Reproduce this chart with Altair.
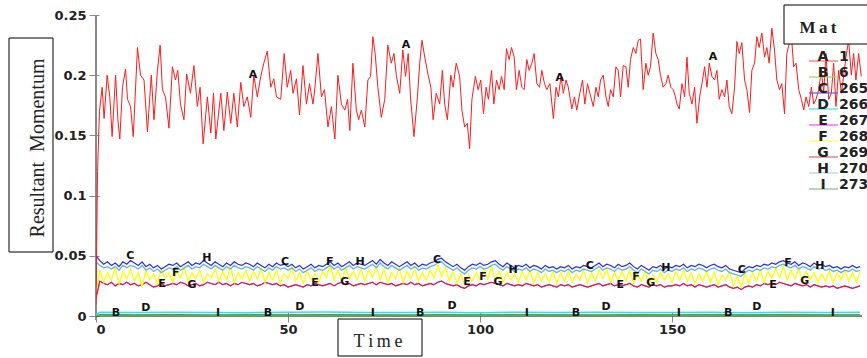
import altair as alt
import pandas as pd

# ---------------- data ----------------
RED_T = [0, 0.4, 0.9, 1.6, 2.1, 2.9, 3.6, 4.2, 5.1, 5.7, 6.2, 6.9, 7.7, 8.2, 9.0, 9.7, 10.8, 11.6, 12.5, 13.4,
         14.4, 15.1, 16.0, 16.7, 17.3, 18.1, 19.0, 19.9, 20.7, 21.3, 22.0, 22.9, 23.6, 24.6, 25.5, 26.4, 27.1, 27.9,
         29.0, 29.9, 30.6, 31.2, 32.5, 33.3, 34.2, 35.1, 35.9, 36.8, 37.7, 38.5, 39.4, 40.3, 41.1, 42.0, 42.9, 43.7,
         44.6, 45.5, 46.3, 47.0, 48.1, 49.0, 49.8,
         50.7, 51.3, 52.2, 53.0, 53.9, 54.8, 55.6, 56.5, 56.9, 57.8, 58.7, 59.5, 60.4, 61.3, 62.2, 63.0, 63.9, 64.8,
         65.5, 66.1, 66.9, 67.8, 68.4, 69.1, 70.0, 70.8, 71.5, 72.1, 72.7, 73.4, 74.3, 75.2, 76.0, 76.9, 77.6, 78.2,
         79.1, 79.9, 80.6, 81.3, 81.9, 82.8, 83.7, 84.3, 84.9, 85.6, 86.5, 87.2, 87.8, 88.6, 89.5, 90.2, 90.8, 91.5,
         92.4, 93.0, 93.8, 94.7, 95.3, 96.0, 96.7, 97.3, 97.9, 98.8, 99.5, 100.2,
         100.9, 101.6, 102.2, 103.0, 103.6, 104.3, 105.0, 105.6, 106.3, 106.9, 107.6, 108.2, 108.9, 109.5, 110.2,
         110.9, 111.5, 112.2, 112.8, 113.5, 114.1, 114.8, 115.5, 116.1, 116.8, 117.4, 118.2, 119.1, 119.8, 120.4,
         121.1, 121.7, 122.4, 123.0, 123.9, 124.6, 125.2, 126.0, 126.7, 127.3, 128.0, 128.6, 129.5, 130.2, 130.8,
         131.4, 132.1, 132.8, 133.4, 134.0, 134.7, 135.4, 136.0, 136.6, 137.3, 138.0, 138.6, 139.2, 139.9, 140.6,
         141.2, 141.8, 142.5, 143.2, 143.8, 144.4, 145.1, 145.8, 146.4, 147.0, 147.7, 148.4, 149.0, 149.7,
         150.3, 150.9, 151.3, 151.9, 152.6, 153.3, 153.9, 154.5, 155.2, 155.9, 156.5, 157.2, 157.8, 158.5, 159.1,
         159.7, 160.4, 161.1, 161.7, 162.3, 163.0, 163.7, 164.3, 164.9, 165.6, 166.3, 166.9, 167.5, 168.2, 168.9,
         169.5, 170.2, 170.8, 171.5, 172.1, 172.7, 173.4, 174.1, 174.7, 175.3, 176.0, 176.7, 177.3, 178.0, 178.6,
         179.3, 179.9, 180.6, 181.1, 181.7, 182.3, 183.0, 183.7, 184.3, 184.9, 185.6, 186.3, 186.9, 187.5, 188.2,
         188.9, 189.5, 190.1, 190.8, 191.5, 192.1, 192.7, 193.4, 194.1, 194.7, 195.3, 196.0, 196.7, 197.3, 197.9,
         198.6, 199.3]
RED_V = [0.01, 0.12, 0.17, 0.19, 0.164, 0.2, 0.182, 0.149, 0.2, 0.163, 0.147, 0.19, 0.205, 0.18, 0.174, 0.149,
         0.223, 0.2, 0.196, 0.153, 0.2, 0.163, 0.204, 0.225, 0.188, 0.182, 0.156, 0.207, 0.196, 0.204, 0.176, 0.163,
         0.201, 0.185, 0.208, 0.174, 0.19, 0.143, 0.182, 0.152, 0.185, 0.147, 0.185, 0.154, 0.186, 0.16, 0.185,
         0.157, 0.194, 0.174, 0.182, 0.165, 0.2, 0.182, 0.199, 0.21, 0.22, 0.19, 0.197, 0.182, 0.18, 0.218, 0.19,
         0.204, 0.185, 0.197, 0.167, 0.208, 0.176, 0.193, 0.176, 0.186, 0.218, 0.182, 0.188, 0.157, 0.174, 0.147,
         0.2, 0.176, 0.171, 0.18, 0.154, 0.21, 0.171, 0.163, 0.171, 0.157, 0.196, 0.199, 0.232, 0.218, 0.19, 0.165,
         0.18, 0.225, 0.21, 0.218, 0.2, 0.185, 0.221, 0.199, 0.218, 0.182, 0.149, 0.182, 0.21, 0.229, 0.215, 0.2,
         0.19, 0.163, 0.185, 0.176, 0.204, 0.176, 0.163, 0.2, 0.19, 0.21, 0.199, 0.171, 0.157, 0.16, 0.139, 0.18,
         0.199, 0.188, 0.196,
         0.168, 0.19, 0.18, 0.204, 0.176, 0.196, 0.188, 0.199, 0.188, 0.222, 0.213, 0.223, 0.215, 0.188, 0.204,
         0.19, 0.188, 0.213, 0.204, 0.21, 0.218, 0.193, 0.19, 0.204, 0.193, 0.188, 0.193, 0.164, 0.19, 0.182,
         0.199, 0.185, 0.196, 0.19, 0.172, 0.182, 0.171, 0.185, 0.196, 0.176, 0.193, 0.185, 0.174, 0.19, 0.182,
         0.196, 0.2, 0.182, 0.174, 0.188, 0.182, 0.207, 0.204, 0.182, 0.208, 0.207, 0.19, 0.213, 0.223, 0.218,
         0.229, 0.23, 0.188, 0.21, 0.2, 0.207, 0.235, 0.218, 0.213, 0.2, 0.19, 0.193, 0.2, 0.19,
         0.188, 0.182, 0.176, 0.172, 0.193, 0.182, 0.215, 0.185, 0.176, 0.19, 0.16, 0.182, 0.193, 0.207, 0.19,
         0.21, 0.199, 0.196, 0.204, 0.18, 0.188, 0.182, 0.196, 0.174, 0.168, 0.19, 0.228, 0.218, 0.227, 0.196,
         0.188, 0.169, 0.204, 0.21, 0.232, 0.223, 0.235, 0.215, 0.223, 0.21, 0.239, 0.221, 0.196, 0.188, 0.193,
         0.168, 0.218, 0.227, 0.232, 0.207, 0.21, 0.188, 0.18, 0.171, 0.182, 0.174, 0.19, 0.176, 0.18, 0.188,
         0.204, 0.185, 0.218, 0.18, 0.185, 0.21, 0.174, 0.204, 0.185, 0.199, 0.215, 0.229, 0.2, 0.218, 0.196,
         0.218, 0.199]

STEP_T = list(range(200))  # sample times of the low series, one per time unit

# values in thousandths
C_VALS = [50, 46, 43, 45, 42, 44, 41, 45, 43, 46,
          44, 42, 45, 41, 43, 40, 42, 39, 41, 43,
          42, 44, 41, 43, 45, 42, 44, 43, 46, 44,
          42, 45, 43, 41, 44, 42, 45, 43, 42, 44,
          43, 41, 44, 42, 40, 43, 41, 44, 42, 43,
          41, 43, 40, 42, 39, 41, 43, 40, 42, 41,
          43, 45, 42, 44, 41, 43, 45, 42, 44, 43,
          42, 44, 46, 43, 47, 44, 42, 45, 43, 41,
          43, 45, 42, 44, 41, 43, 42, 44, 45, 47,
          48, 45, 43, 41, 43, 40, 38, 41, 43, 42,
          44, 42, 43, 45, 46, 43, 41, 44, 42, 40,
          42, 41, 43, 40, 42, 41, 39, 42, 40, 41,
          39, 41, 40, 42, 39, 41, 40, 42, 41, 40,
          42, 44, 41, 43, 42, 40, 43, 41, 42, 44,
          41, 39, 42, 40, 38, 41, 40, 42, 39, 41,
          40, 42, 41, 43, 40, 42, 41, 43, 42, 40,
          42, 43, 41, 40, 42, 39, 38, 37, 36, 39,
          41, 40, 42, 41, 43, 42, 44, 43, 45, 46,
          44, 43, 45, 42, 44, 43, 41, 44, 42, 43,
          41, 42, 40, 41, 39, 41, 40, 42, 40, 41]
H_VALS = [45, 42, 40, 41, 39, 41, 38, 42, 40, 42,
          41, 39, 42, 38, 40, 37, 39, 36, 38, 40,
          39, 41, 38, 40, 42, 39, 41, 40, 43, 41,
          39, 42, 40, 38, 41, 39, 42, 40, 39, 41,
          40, 38, 41, 39, 37, 40, 38, 41, 39, 40,
          38, 40, 37, 39, 36, 38, 40, 37, 39, 38,
          40, 42, 39, 41, 38, 40, 42, 39, 41, 40,
          39, 41, 43, 40, 44, 41, 39, 42, 40, 38,
          40, 42, 39, 41, 38, 40, 39, 41, 42, 44,
          45, 42, 40, 38, 40, 37, 35, 38, 40, 39,
          41, 39, 40, 42, 43, 40, 38, 41, 39, 37,
          39, 38, 40, 37, 39, 38, 36, 39, 37, 38,
          36, 38, 37, 39, 36, 38, 37, 39, 38, 37,
          39, 41, 38, 40, 39, 37, 40, 38, 39, 41,
          38, 36, 39, 37, 35, 38, 37, 39, 36, 38,
          37, 39, 38, 40, 37, 39, 38, 40, 39, 37,
          39, 40, 38, 37, 39, 36, 35, 34, 33, 36,
          38, 37, 39, 38, 40, 39, 41, 40, 42, 43,
          41, 40, 42, 39, 41, 40, 38, 41, 39, 40,
          38, 39, 37, 38, 36, 38, 37, 39, 37, 38]
F_VALS = [20, 38, 28, 36, 30, 40, 27, 37, 31, 39,
          29, 36, 24, 38, 30, 35, 27, 39, 31, 36,
          28, 37, 32, 40, 29, 36, 31, 38, 28, 35,
          32, 39, 29, 37, 30, 41, 28, 36, 31, 38,
          29, 37, 31, 39, 28, 36, 30, 38, 27, 35,
          31, 40, 29, 36, 27, 38, 30, 35, 28, 37,
          32, 42, 30, 38, 29, 40, 31, 37, 30, 39,
          29, 38, 32, 41, 30, 39, 28, 36, 31, 40,
          28, 37, 31, 39, 29, 36, 30, 38, 32, 42,
          33, 40, 29, 37, 27, 35, 26, 34, 29, 36,
          30, 39, 31, 41, 29, 37, 28, 36, 30, 35,
          28, 37, 30, 38, 27, 36, 29, 35, 28, 37,
          27, 36, 29, 37, 28, 35, 30, 38, 27, 36,
          29, 38, 31, 39, 28, 36, 30, 37, 29, 38,
          27, 35, 29, 37, 26, 34, 28, 36, 30, 35,
          28, 37, 30, 38, 29, 36, 27, 35, 29, 37,
          28, 36, 26, 34, 30, 37, 25, 33, 24, 35,
          27, 36, 29, 38, 28, 37, 31, 40, 32, 41,
          30, 38, 31, 39, 29, 37, 30, 36, 28, 35,
          29, 37, 28, 36, 30, 38, 29, 36, 28, 37]
G_VALS = [15, 29, 27, 26, 28, 25, 27, 26, 28, 26,
          27, 25, 26, 28, 26, 24, 25, 27, 25, 26,
          27, 26, 28, 27, 25, 26, 27, 25, 26, 28,
          27, 26, 28, 26, 27, 25, 27, 26, 28, 27,
          26, 27, 25, 26, 28, 27, 26, 27, 25, 26,
          24, 25, 26, 25, 24, 26, 25, 27, 26, 25,
          26, 27, 25, 27, 28, 26, 27, 25, 26, 27,
          26, 27, 28, 26, 28, 27, 26, 27, 25, 26,
          27, 26, 28, 26, 27, 25, 26, 27, 26, 28,
          29, 27, 26, 25, 26, 24, 23, 25, 26, 25,
          27, 26, 27, 28, 27, 26, 25, 27, 26, 25,
          26, 25, 27, 26, 25, 26, 24, 25, 26, 25,
          24, 26, 25, 26, 24, 25, 26, 25, 24, 25,
          26, 27, 25, 26, 27, 25, 26, 25, 26, 27,
          25, 24, 26, 25, 24, 26, 25, 26, 24, 25,
          25, 26, 25, 27, 25, 26, 24, 26, 25, 24,
          25, 26, 24, 25, 26, 24, 23, 24, 22, 24,
          25, 24, 26, 25, 27, 26, 27, 26, 28, 27,
          26, 25, 27, 26, 25, 26, 24, 26, 25, 24,
          25, 24, 25, 23, 24, 25, 24, 23, 24, 25]
E_VALS = G_VALS  # magenta series lies under the crimson one

SLOW_T = [0, 1, 10, 20, 30, 40, 50, 60, 70, 80, 90, 100, 110, 120, 130, 140, 150, 160, 170, 180, 190, 199]
D_VALS = [1.0, 3.1, 2.9, 3.2, 3.0, 2.8, 3.1, 3.3, 2.9, 3.0, 3.2, 2.8, 3.1, 3.0, 3.2, 2.9, 3.0, 3.2, 2.8, 3.1, 3.0, 3.1]
I_VALS = [0.5, 1.2, 1.1, 1.2, 1.0, 1.2, 1.1, 1.2, 1.1, 1.0, 1.2, 1.1, 1.2, 1.1, 1.0, 1.2, 1.1, 1.2, 1.1, 1.2, 1.1, 1.1]
B_VALS = [0.3, 0.5, 0.5, 0.6, 0.5, 0.4, 0.5, 0.5, 0.6, 0.5, 0.5, 0.4, 0.5, 0.6, 0.5, 0.5, 0.4, 0.5, 0.6, 0.5, 0.5, 0.5]

# in-plot curve labels: letter, times, values
LABELS = {
    "A": ([40.9, 80.7, 120.8, 160.7], [0.200, 0.225, 0.198, 0.215]),
    "B": ([5.2, 44.8, 84.4, 125.0, 164.6], [0.0025, 0.0025, 0.0025, 0.0025, 0.0025]),
    "C": ([8.9, 49.2, 88.8, 128.6, 168.2], [0.050, 0.045, 0.0465, 0.0415, 0.038]),
    "D": ([13.0, 53.1, 92.7, 132.8, 172.1], [0.0066, 0.0075, 0.0083, 0.0075, 0.0075]),
    "E": ([17.2, 57.0, 96.6, 136.5, 176.3], [0.0266, 0.0274, 0.028, 0.0257, 0.0257]),
    "F": ([20.8, 60.9, 100.8, 140.6, 180.2], [0.0357, 0.045, 0.032, 0.032, 0.044]),
    "G": ([25.0, 64.8, 104.7, 144.5, 184.6], [0.0257, 0.028, 0.028, 0.0274, 0.029]),
    "H": ([28.9, 68.75, 108.6, 148.4, 188.5], [0.048, 0.045, 0.038, 0.040, 0.0415]),
    "I": ([31.8, 72.1, 112.2, 151.8, 191.9], [0.0025, 0.0025, 0.0025, 0.0025, 0.0025]),
}

LEGEND_KEYS = ["A", "B", "C", "D", "E", "F", "G", "H", "I"]
LEGEND_NUMS = ["1", "6", "265", "266", "267", "268", "269", "270", "273"]
LEGEND_COLORS = ["#ff6666", "#88e060", "#5a5ae6", "#40e0e8", "#ff44ff", "#ffff44", "#d06878", "#a8d4f0", "#88b898"]

LINE_COLORS = {"A": "#ff1a1a", "B": "#55c433", "C": "#2a2af0", "D": "#2ee0ea", "E": "#ff00ff",
               "F": "#ffff00", "G": "#d81e46", "H": "#5cb4e8", "I": "#3f8f5f"}

Y_TICKS = [0, 0.05, 0.1, 0.15, 0.2, 0.25]
X_TICKS = [0, 50, 100, 150]

# ---------------- chart ----------------
W, H = 768, 301
LAB_FONT = "DejaVu Sans"
SERIF = "Liberation Serif"

xenc = alt.X("t:Q", scale=alt.Scale(domain=[0, 200], nice=False, zero=False),
             axis=alt.Axis(values=X_TICKS, domain=False, grid=False, offset=-4, tickSize=10,
                           tickColor="#8a8a8a", tickWidth=1, labelFont=LAB_FONT, labelFontWeight="bold",
                           labelFontSize=13, labelColor="#222", labelPadding=1, title=None, format="d"))
yenc = alt.Y("v:Q", scale=alt.Scale(domain=[0, 0.25], nice=False),
             axis=alt.Axis(values=Y_TICKS, domain=False, grid=False, offset=-3, tickSize=10,
                           tickColor="#8a8a8a", tickWidth=1, labelFont=LAB_FONT, labelFontWeight="bold",
                           labelFontSize=13, labelColor="#222", labelPadding=3, title=None, format="~g"))


def series_layer(times, vals, key, scale_div, width=1.0):
    df = pd.DataFrame({"t": times, "v": [v / scale_div for v in vals]})
    return alt.Chart(df).mark_line(color=LINE_COLORS[key], strokeWidth=width, clip=True).encode(x=xenc, y=yenc)


one = pd.DataFrame({"k": [0]})

axis_left = alt.Chart(one).mark_rule(color="#8a8a8a", strokeWidth=2).encode(
    x=alt.value(0), y=alt.value(0), y2=alt.value(H + 4))
axis_bottom = alt.Chart(one).mark_rule(color="#3d6b45", strokeWidth=1.5).encode(
    x=alt.value(0), x2=alt.value(766), y=alt.value(H))

layers = [
    axis_left,
    axis_bottom,
    series_layer(STEP_T, E_VALS, "E", 1000),
    series_layer(STEP_T, G_VALS, "G", 1000, 1.2),
    series_layer(STEP_T, F_VALS, "F", 1000, 1.3),
    series_layer(STEP_T, H_VALS, "H", 1000, 1.3),
    series_layer(STEP_T, C_VALS, "C", 1000, 1.2),
    series_layer(SLOW_T, B_VALS, "B", 1000),
    series_layer(SLOW_T, I_VALS, "I", 1000),
    series_layer(SLOW_T, D_VALS, "D", 1000, 1.5),
    series_layer(RED_T, RED_V, "A", 1),
]

lbl_rows = []
for k, (ts, vs) in LABELS.items():
    for t, v in zip(ts, vs):
        lbl_rows.append({"t": t, "v": v, "txt": k})
lbl_df = pd.DataFrame(lbl_rows)
labels = alt.Chart(lbl_df).mark_text(font=LAB_FONT, fontWeight="bold", fontSize=11, color="#111",
                                     baseline="middle", align="center").encode(x=xenc, y=yenc, text="txt:N")
layers.append(labels)

# axis title boxes
ybox = alt.Chart(one).mark_rect(fill="white", stroke="black", strokeWidth=1).encode(
    x=alt.value(-87), x2=alt.value(-43), y=alt.value(23), y2=alt.value(237))
ytxt = alt.Chart(one).mark_text(text="Resultant\u00a0\u00a0Momentum", font=SERIF, fontSize=20, angle=270,
                                align="center", baseline="alphabetic", color="#222").encode(
    x=alt.value(-52), y=alt.value(133))
xbox = alt.Chart(one).mark_rect(fill="white", stroke="black", strokeWidth=1).encode(
    x=alt.value(242), x2=alt.value(326), y=alt.value(304), y2=alt.value(341))
xtxt = alt.Chart(one).mark_text(text="T\u2009i\u2009m\u2009e", font=SERIF, fontSize=18,
                                align="center", baseline="alphabetic", color="#222").encode(
    x=alt.value(282), y=alt.value(332))
mbox = alt.Chart(one).mark_rect(fill="white", stroke="black", strokeWidth=1).encode(
    x=alt.value(688), x2=alt.value(790), y=alt.value(-10), y2=alt.value(29))
mtxt = alt.Chart(one).mark_text(text="M\u2009a\u2009t", font=SERIF, fontSize=17, fontWeight="bold",
                                align="center", baseline="alphabetic", color="#222").encode(
    x=alt.value(722), y=alt.value(18))
layers += [ybox, ytxt, xbox, xtxt, mbox, mtxt]

# legend entries
leg_df = pd.DataFrame({"key": LEGEND_KEYS, "num": LEGEND_NUMS, "col": LEGEND_COLORS})
leg_df["ly"] = [46 + 16 * i for i in range(len(leg_df))]
leg_lines = alt.Chart(leg_df).mark_rule(strokeWidth=1.2).encode(
    x=alt.value(713), x2=alt.value(742), y=alt.Y("ly:Q", scale=None, axis=None),
    color=alt.Color("col:N", scale=None, legend=None))
leg_keys = alt.Chart(leg_df).mark_text(font=LAB_FONT, fontWeight="bold", fontSize=14, color="#222",
                                       align="center", baseline="alphabetic").encode(
    x=alt.value(727), y=alt.Y("ly:Q", scale=None, axis=None), text="key:N")
leg_nums = alt.Chart(leg_df).mark_text(font=LAB_FONT, fontWeight="bold", fontSize=14, color="#222",
                                       align="left", baseline="alphabetic").encode(
    x=alt.value(743), y=alt.Y("ly:Q", scale=None, axis=None), text="num:N")
layers += [leg_lines, leg_keys, leg_nums]

chart = alt.layer(*layers).properties(
    width=W, height=H, autosize="none",
    padding={"left": 96, "top": 15, "right": 3, "bottom": 42},
    background="white",
).configure_view(stroke=None)

chart.save("out.html", embed_options={"renderer": "svg", "actions": False})
